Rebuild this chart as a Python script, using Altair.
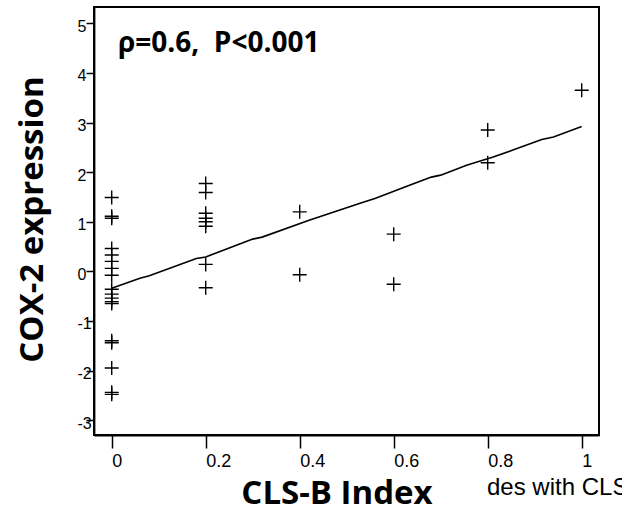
import altair as alt
import pandas as pd

# CLS-B index groups and COX-2 expression values
cls_0 = [1.49, 1.11, 1.07, 0.46, 0.33, 0.20, 0.06, -0.08, -0.36, -0.46, -0.54, -0.61, -0.65,
         -1.40, -1.44, -1.95, -2.44, -2.48]
cls_02 = [1.77, 1.59, 1.17, 1.07, 1.00, 0.91, 0.14, -0.33]
cls_04 = [1.20, -0.07]
cls_06 = [0.75, -0.26]
cls_08 = [2.85, 2.19]
cls_10 = [3.65]

# fitted curve
fit_x = [0, 0.06, 0.08, 0.18, 0.2, 0.3, 0.32, 0.42, 0.53, 0.56, 0.635, 0.68, 0.70,
         0.755, 0.81, 0.855, 0.915, 0.94, 1.0]
fit_y = [-0.34, -0.14, -0.09, 0.26, 0.29, 0.65, 0.69, 1.03, 1.38, 1.47, 1.74, 1.90, 1.94,
         2.14, 2.30, 2.45, 2.66, 2.71, 2.92]

x_ticks = [0, 0.2, 0.4, 0.6, 0.8, 1]
y_ticks = [-3, -2, -1, 0, 1, 2, 3, 4, 5]

groups = [(0, cls_0), (0.2, cls_02), (0.4, cls_04), (0.6, cls_06), (0.8, cls_08), (1.0, cls_10)]
rows = [{"x": gx, "y": v} for gx, vals in groups for v in vals]
pts = pd.DataFrame(rows)
fit = pd.DataFrame({"x": fit_x, "y": fit_y})

xscale = alt.Scale(domain=[-0.0377, 1.0368], nice=False, zero=False)
yscale = alt.Scale(domain=[-3.30, 5.33], nice=False, zero=False)

xaxis = alt.Axis(values=x_ticks, labelExpr="toString(datum.value)", grid=False,
                 domain=True, domainColor="black", domainWidth=1.8,
                 tickSize=13, tickWidth=1.5, tickColor="black",
                 labelAlign="left", labelBaseline="top", labelPadding=4, labelFlush=False,
                 labelFont="Liberation Sans", labelFontSize=18, labelColor="black",
                 title="CLS-B Index", titleFont="Open Sans", titleFontWeight="bold",
                 titleFontSize=33, titleColor="black", titleX=242.5, titleY=68,
                 titleAlign="center", titleBaseline="alphabetic")
yaxis = alt.Axis(values=y_ticks, labelExpr="toString(datum.value)", grid=False,
                 domain=True, domainColor="black", domainWidth=1.8,
                 tickSize=8, tickWidth=1.5, tickColor="black",
                 labelAlign="left", labelBaseline="middle", labelPadding=9, labelOffset=3,
                 labelFlush=False,
                 labelFont="Liberation Sans", labelFontSize=16, labelColor="black",
                 title="COX-2 expression", titleFont="Open Sans", titleFontWeight="bold",
                 titleFontSize=33, titleColor="black", titleAngle=-90, titleX=-52, titleY=212,
                 titleAlign="center", titleBaseline="alphabetic")

frame = alt.Chart(pd.DataFrame({"k": [0]})).mark_rect(
    fill=None, stroke="black", strokeWidth=1.8
).encode(x=alt.value(0), x2=alt.value("width"), y=alt.value(0), y2=alt.value("height"))

points = alt.Chart(pts).mark_point(
    shape="M-1,0L1,0M0,-1L0,1", filled=False, stroke="black", strokeWidth=1.4, size=196,
    opacity=1
).encode(
    x=alt.X("x:Q", scale=xscale, axis=xaxis),
    y=alt.Y("y:Q", scale=yscale, axis=yaxis),
)

line = alt.Chart(fit).mark_line(color="black", strokeWidth=1.6).encode(
    x=alt.X("x:Q", scale=xscale),
    y=alt.Y("y:Q", scale=yscale),
)

annot = alt.Chart(pd.DataFrame({"t": ["ρ=0.6,\u00a0 P<0.001"]})).mark_text(
    align="left", baseline="alphabetic", font="Open Sans", fontWeight="bold",
    fontSize=28, color="black"
).encode(x=alt.value(24), y=alt.value(45), text="t:N")

stray = alt.Chart(pd.DataFrame({"t": ["des with CLS"]})).mark_text(
    align="left", baseline="alphabetic", font="Liberation Sans", fontSize=24, color="black"
).encode(x=alt.value(393), y=alt.value(488), text="t:N")

chart = alt.layer(points, line, frame, annot, stray).properties(
    width=505, height=428,
    padding={"left": 94, "top": 7, "right": 23, "bottom": 78},
    autosize=alt.AutoSizeParams(type="none"),
    background="white",
).configure_view(stroke="black", strokeWidth=1.8)

chart.save("out.html", embed_options={"renderer": "svg", "actions": False})
